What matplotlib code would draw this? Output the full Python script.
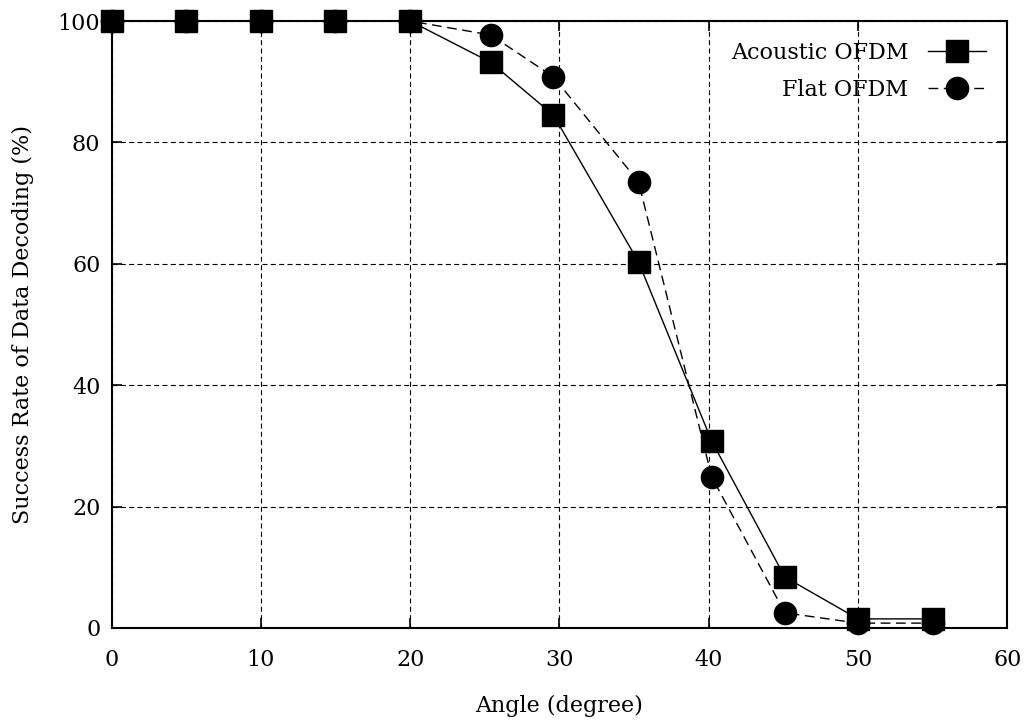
import matplotlib
matplotlib.use("Agg")
import matplotlib.pyplot as plt

angles_acoustic = [0, 5, 10, 15, 20, 25.4, 29.6, 35.3, 40.2, 45.1, 50, 55]
acoustic = [100, 100, 100, 100, 100, 93.2, 84.5, 60.3, 30.8, 8.4, 1.5, 1.5]
angles_flat = [0, 5, 10, 15, 20, 25.4, 29.6, 35.3, 40.2, 45.1, 50, 55]
flat = [100, 100, 100, 100, 100, 97.7, 90.8, 73.5, 24.9, 2.5, 0.8, 0.8]

plt.rcParams['font.family'] = ['DejaVu Serif']
plt.rcParams['mathtext.fontset'] = 'dejavuserif'

fig = plt.figure(figsize=(10.29, 7.2), dpi=100)
ax = fig.add_axes([0.1084, 0.1278, 0.8705, 0.843])

ax.plot(angles_acoustic, acoustic, color='black', linestyle='-', linewidth=1.0,
        marker='s', markersize=16, label='Acoustic OFDM', clip_on=False, zorder=3)
ax.plot(angles_flat, flat, color='black', linestyle=(0, (7, 4)), linewidth=1.0,
        marker='o', markersize=16, label='Flat OFDM', clip_on=False, zorder=3)

ax.set_xlim(0, 60)
ax.set_ylim(0, 100)
ax.set_xticks([0, 10, 20, 30, 40, 50, 60])
ax.set_yticks([0, 20, 40, 60, 80, 100])
ax.grid(True, color='black', linestyle=(0, (4.5, 3)), linewidth=0.8)
ax.tick_params(direction='in', length=7, width=1.2, top=True, right=True,
               labelsize=16)
ax.tick_params(axis='x', pad=15)
ax.tick_params(axis='y', pad=8)
for s in ax.spines.values():
    s.set_linewidth(1.5)

ax.set_xlabel('Angle (degree)', fontsize=16, labelpad=17)
ax.set_ylabel('Success Rate of Data Decoding (%)', fontsize=16, labelpad=17)

leg = ax.legend(loc='upper right', frameon=False, markerfirst=False,
                fontsize=16, handlelength=2.6, handletextpad=0.9,
                borderaxespad=0.55, labelspacing=0.68)
for t in leg.get_texts():
    t.set_ha('right')

fig.savefig('out.png', dpi=100)
